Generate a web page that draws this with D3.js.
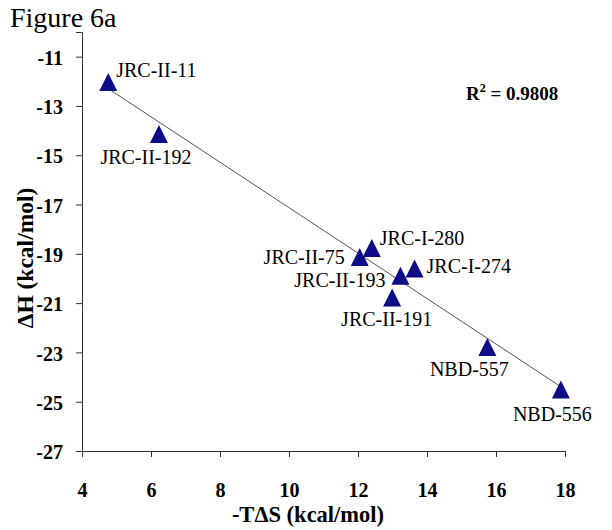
<!DOCTYPE html>
<html>
<head>
<meta charset="utf-8">
<script src="https://cdn.jsdelivr.net/npm/d3@7/dist/d3.min.js"></script>
<style>
  html, body { margin: 0; padding: 0; background: #fff; }
  svg { display: block; }
  text { font-family: "Liberation Serif", "Times New Roman", serif; fill: #000; }
</style>
</head>
<body>
<svg id="chart" width="612" height="530"></svg>
<script>
// ---- data ----
const compounds = ["JRC-II-11", "JRC-II-192", "JRC-II-75", "JRC-I-280", "JRC-II-193", "JRC-I-274", "JRC-II-191", "NBD-557", "NBD-556"];
const minusTdS  = [4.76, 6.23, 12.05, 12.40, 13.23, 13.64, 12.99, 15.75, 17.88];
const deltaH    = [-12.03, -14.14, -19.13, -18.76, -19.89, -19.60, -20.77, -22.78, -24.50];
const xTicks = [4, 6, 8, 10, 12, 14, 16, 18];
const yTicks = [-27, -25, -23, -21, -19, -17, -15, -13, -11];
const r2Label = "0.9808";

// ---- label placement (layout, kept apart from the data) ----
const labelPlacement = {
  "JRC-II-11":  { anchor: "start",  dx: 8,   dy: -5 },
  "JRC-II-192": { anchor: "middle", dx: -13, dy: 29.5 },
  "JRC-II-75":  { anchor: "end",    dx: -15, dy: 7 },
  "JRC-I-280":  { anchor: "start",  dx: 8,   dy: -3 },
  "JRC-II-193": { anchor: "end",    dx: -15, dy: 11.5 },
  "JRC-I-274":  { anchor: "start",  dx: 12,  dy: 4 },
  "JRC-II-191": { anchor: "middle", dx: -5.5,dy: 28.5 },
  "NBD-557":    { anchor: "middle", dx: -18, dy: 29.5 },
  "NBD-556":    { anchor: "middle", dx: -8.5,dy: 32 }
};

const svg = d3.select("#chart");
const x = d3.scaleLinear().domain([4, 18]).range([82, 565]);
const y = d3.scaleLinear().domain([-27, -10]).range([451, 32]);

const points = compounds.map((name, i) => ({ name, x: minusTdS[i], y: deltaH[i] }));

// regression line
const mx = d3.mean(minusTdS), my = d3.mean(deltaH);
const sxy = d3.sum(points, p => (p.x - mx) * (p.y - my));
const sxx = d3.sum(points, p => (p.x - mx) ** 2);
const slope = sxy / sxx, intercept = my - slope * mx;
const [x0, x1] = d3.extent(minusTdS);

svg.append("line")
  .attr("x1", x(x0)).attr("y1", y(slope * x0 + intercept))
  .attr("x2", x(x1)).attr("y2", y(slope * x1 + intercept))
  .attr("stroke", "#555").attr("stroke-width", 1);

// axes
const xAxis = svg.append("g").attr("transform", `translate(0,${y(-27)})`)
  .call(d3.axisBottom(x).tickValues(xTicks).tickSize(6).tickPadding(26).tickFormat(d3.format("d")));
const yAxis = svg.append("g").attr("transform", `translate(${x(4)},0)`)
  .call(d3.axisLeft(y).tickValues(yTicks).tickSize(6).tickPadding(13).tickFormat(d => d3.format("d")(d).replace("−", "-")));

[xAxis, yAxis].forEach(g => {
  g.select(".domain").attr("stroke", "#333").attr("stroke-width", 1);
  g.selectAll(".tick line").attr("stroke", "#333").attr("stroke-width", 1);
  g.selectAll(".tick text")
    .attr("font-family", "Liberation Serif, Times New Roman, serif")
    .attr("font-size", 20).attr("font-weight", "bold").attr("fill", "#000");
});
yAxis.selectAll(".tick text").attr("dy", "0.38em");

// markers
const tri = "M0,-9L9,9L-9,9Z";
svg.append("g").selectAll("path").data(points).join("path")
  .attr("d", tri)
  .attr("transform", d => `translate(${x(d.x)},${y(d.y)})`)
  .attr("fill", "#0d0d87");

// point labels
svg.append("g").selectAll("text").data(points).join("text")
  .attr("x", d => x(d.x) + labelPlacement[d.name].dx)
  .attr("y", d => y(d.y) + labelPlacement[d.name].dy)
  .attr("text-anchor", d => labelPlacement[d.name].anchor)
  .attr("font-size", 20)
  .text(d => d.name);

// R² annotation
const r2 = svg.append("text").attr("x", 466).attr("y", 99.5)
  .attr("font-size", 19).attr("font-weight", "bold");
r2.append("tspan").text("R");
r2.append("tspan").attr("font-size", 12).attr("dy", -8).text("2");
r2.append("tspan").attr("dy", 8).text(" = " + r2Label);

// axis titles
svg.append("text").attr("x", 308).attr("y", 521.5).attr("text-anchor", "middle")
  .attr("font-size", 22.5).attr("font-weight", "bold").text("-TΔS (kcal/mol)");
svg.append("text").attr("transform", "translate(33,258) rotate(-90)").attr("text-anchor", "middle")
  .attr("font-size", 23.5).attr("font-weight", "bold").text("ΔH (kcal/mol)");

// figure title
svg.append("text").attr("x", 10).attr("y", 26.5).attr("font-size", 28).text("Figure 6a");
</script>
</body>
</html>
